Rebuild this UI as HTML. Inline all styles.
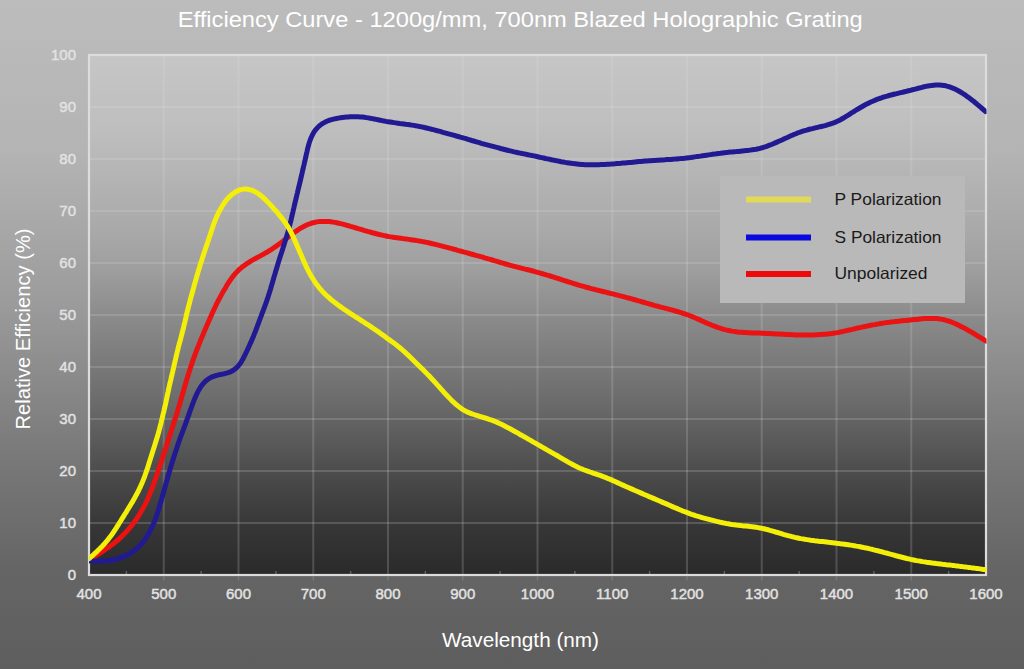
<!DOCTYPE html>
<html><head><meta charset="utf-8">
<style>
html,body{margin:0;padding:0;}
body{width:1024px;height:669px;overflow:hidden;position:relative;
background:linear-gradient(to bottom,rgb(188,188,188) 0%,rgb(180,180,180) 22.4%,rgb(156,156,156) 44.8%,rgb(122,122,122) 67.3%,rgb(101,101,101) 85.2%,rgb(94,94,94) 100%);
font-family:"Liberation Sans",sans-serif;}
svg{position:absolute;left:0;top:0;}
.t{font-family:"Liberation Sans",sans-serif;fill:#fff;}
.ax text{font-family:"Liberation Sans",sans-serif;font-size:15px;fill:#e2e2e2;stroke:#e2e2e2;stroke-width:0.45px;}
</style></head><body>
<svg width="1024" height="669" viewBox="0 0 1024 669">
<defs>
<linearGradient id="pg" x1="0" y1="0" x2="0" y2="1">
<stop offset="0.000" stop-color="rgb(198,198,198)"/>
<stop offset="0.144" stop-color="rgb(190,190,190)"/>
<stop offset="0.346" stop-color="rgb(168,168,168)"/>
<stop offset="0.413" stop-color="rgb(158,158,158)"/>
<stop offset="0.494" stop-color="rgb(141,141,141)"/>
<stop offset="0.654" stop-color="rgb(110,110,110)"/>
<stop offset="0.817" stop-color="rgb(73,73,73)"/>
<stop offset="0.910" stop-color="rgb(54,54,54)"/>
<stop offset="1.000" stop-color="rgb(42,42,42)"/>
</linearGradient>
<linearGradient id="gg" gradientUnits="userSpaceOnUse" x1="0" y1="55" x2="0" y2="575"><stop offset="0" stop-color="#fff" stop-opacity="0.09"/><stop offset="0.5" stop-color="#fff" stop-opacity="0.13"/><stop offset="1" stop-color="#fff" stop-opacity="0.17"/></linearGradient>
<clipPath id="pc"><rect x="89" y="20" width="897.5" height="555"/></clipPath>
</defs>
<rect x="89" y="55" width="897" height="520" fill="url(#pg)"/>
<g stroke="url(#gg)" stroke-width="2">
<line x1="163.75" y1="55" x2="163.75" y2="575"/><line x1="238.50" y1="55" x2="238.50" y2="575"/><line x1="313.25" y1="55" x2="313.25" y2="575"/><line x1="388.00" y1="55" x2="388.00" y2="575"/><line x1="462.75" y1="55" x2="462.75" y2="575"/><line x1="537.50" y1="55" x2="537.50" y2="575"/><line x1="612.25" y1="55" x2="612.25" y2="575"/><line x1="687.00" y1="55" x2="687.00" y2="575"/><line x1="761.75" y1="55" x2="761.75" y2="575"/><line x1="836.50" y1="55" x2="836.50" y2="575"/><line x1="911.25" y1="55" x2="911.25" y2="575"/><line x1="89" y1="523.0" x2="986" y2="523.0"/><line x1="89" y1="471.0" x2="986" y2="471.0"/><line x1="89" y1="419.0" x2="986" y2="419.0"/><line x1="89" y1="367.0" x2="986" y2="367.0"/><line x1="89" y1="315.0" x2="986" y2="315.0"/><line x1="89" y1="263.0" x2="986" y2="263.0"/><line x1="89" y1="211.0" x2="986" y2="211.0"/><line x1="89" y1="159.0" x2="986" y2="159.0"/><line x1="89" y1="107.0" x2="986" y2="107.0"/>
</g>
<g stroke="#ffffff" stroke-width="1.5"><line x1="126.38" y1="571" x2="126.38" y2="575" stroke-opacity="0.25"/><line x1="201.12" y1="571" x2="201.12" y2="575" stroke-opacity="0.25"/><line x1="275.88" y1="571" x2="275.88" y2="575" stroke-opacity="0.25"/><line x1="350.62" y1="571" x2="350.62" y2="575" stroke-opacity="0.25"/><line x1="425.38" y1="571" x2="425.38" y2="575" stroke-opacity="0.25"/><line x1="500.13" y1="571" x2="500.13" y2="575" stroke-opacity="0.25"/><line x1="574.88" y1="571" x2="574.88" y2="575" stroke-opacity="0.25"/><line x1="649.62" y1="571" x2="649.62" y2="575" stroke-opacity="0.25"/><line x1="724.38" y1="571" x2="724.38" y2="575" stroke-opacity="0.25"/><line x1="799.12" y1="571" x2="799.12" y2="575" stroke-opacity="0.25"/><line x1="873.88" y1="571" x2="873.88" y2="575" stroke-opacity="0.25"/><line x1="948.63" y1="571" x2="948.63" y2="575" stroke-opacity="0.25"/><line x1="163.75" y1="575" x2="163.75" y2="580.5" stroke-opacity="0.12"/><line x1="238.50" y1="575" x2="238.50" y2="580.5" stroke-opacity="0.12"/><line x1="313.25" y1="575" x2="313.25" y2="580.5" stroke-opacity="0.12"/><line x1="388.00" y1="575" x2="388.00" y2="580.5" stroke-opacity="0.12"/><line x1="462.75" y1="575" x2="462.75" y2="580.5" stroke-opacity="0.12"/><line x1="537.50" y1="575" x2="537.50" y2="580.5" stroke-opacity="0.12"/><line x1="612.25" y1="575" x2="612.25" y2="580.5" stroke-opacity="0.12"/><line x1="687.00" y1="575" x2="687.00" y2="580.5" stroke-opacity="0.12"/><line x1="761.75" y1="575" x2="761.75" y2="580.5" stroke-opacity="0.12"/><line x1="836.50" y1="575" x2="836.50" y2="580.5" stroke-opacity="0.12"/><line x1="911.25" y1="575" x2="911.25" y2="580.5" stroke-opacity="0.12"/></g>
<rect x="89" y="55" width="897" height="520" fill="none" stroke="#dcdcdc" stroke-width="2.2"/>
<g class="ax" text-anchor="end"><text x="76" y="580.2">0</text><text x="76" y="528.2">10</text><text x="76" y="476.2">20</text><text x="76" y="424.2">30</text><text x="76" y="372.2">40</text><text x="76" y="320.2">50</text><text x="76" y="268.2">60</text><text x="76" y="216.2">70</text><text x="76" y="164.2">80</text><text x="76" y="112.2">90</text><text x="76" y="60.2">100</text></g>
<g class="ax" text-anchor="middle"><text x="89.00" y="598.5">400</text><text x="163.75" y="598.5">500</text><text x="238.50" y="598.5">600</text><text x="313.25" y="598.5">700</text><text x="388.00" y="598.5">800</text><text x="462.75" y="598.5">900</text><text x="537.50" y="598.5">1000</text><text x="612.25" y="598.5">1100</text><text x="687.00" y="598.5">1200</text><text x="761.75" y="598.5">1300</text><text x="836.50" y="598.5">1400</text><text x="911.25" y="598.5">1500</text><text x="986.00" y="598.5">1600</text></g>
<g fill="none" stroke-width="5" stroke-linecap="round" stroke-linejoin="round" clip-path="url(#pc)">
<path d="M89.1 559.6 L90.9 558.5 L92.6 557.5 L94.3 556.5 L96.0 555.4 L97.7 554.4 L99.4 553.3 L101.1 552.3 L102.8 551.2 L104.4 550.1 L106.1 549.0 L107.7 547.8 L109.4 546.7 L111.0 545.5 L112.6 544.3 L114.2 543.0 L115.7 541.8 L117.2 540.5 L118.8 539.2 L120.2 537.8 L121.7 536.5 L123.1 535.1 L124.5 533.6 L125.9 532.2 L127.3 530.7 L128.6 529.2 L129.9 527.7 L131.2 526.2 L132.4 524.6 L133.6 523.0 L134.8 521.4 L135.9 519.7 L137.1 518.1 L138.2 516.4 L139.2 514.7 L140.3 513.0 L141.3 511.3 L142.3 509.6 L143.3 507.8 L144.2 506.0 L145.1 504.3 L146.0 502.5 L146.9 500.7 L147.7 498.8 L148.5 497.0 L149.3 495.2 L150.1 493.3 L150.8 491.5 L151.6 489.6 L152.3 487.8 L153.0 485.9 L153.7 484.0 L154.3 482.1 L155.0 480.2 L155.7 478.3 L156.3 476.5 L157.0 474.6 L157.6 472.7 L158.2 470.8 L158.9 468.9 L159.5 467.0 L160.1 465.1 L160.8 463.2 L161.4 461.3 L162.0 459.4 L162.6 457.5 L163.2 455.6 L163.9 453.7 L164.5 451.8 L165.1 449.8 L165.7 447.9 L166.3 446.0 L166.9 444.1 L167.6 442.2 L168.2 440.3 L168.8 438.4 L169.4 436.5 L170.0 434.6 L170.7 432.7 L171.3 430.8 L171.9 428.9 L172.5 427.0 L173.1 425.1 L173.7 423.2 L174.3 421.3 L174.9 419.4 L175.6 417.5 L176.2 415.6 L176.8 413.7 L177.4 411.8 L177.9 409.8 L178.5 407.9 L179.1 406.0 L179.7 404.1 L180.3 402.2 L180.8 400.3 L181.4 398.3 L181.9 396.4 L182.5 394.5 L183.0 392.6 L183.6 390.6 L184.1 388.7 L184.7 386.8 L185.2 384.9 L185.8 383.0 L186.3 381.0 L186.9 379.1 L187.5 377.2 L188.1 375.3 L188.7 373.4 L189.3 371.5 L189.9 369.6 L190.5 367.7 L191.1 365.8 L191.8 363.9 L192.4 362.0 L193.0 360.1 L193.7 358.2 L194.4 356.3 L195.1 354.4 L195.8 352.6 L196.5 350.7 L197.2 348.8 L197.9 347.0 L198.7 345.1 L199.4 343.2 L200.2 341.4 L200.9 339.5 L201.7 337.7 L202.5 335.8 L203.3 334.0 L204.0 332.2 L204.8 330.3 L205.6 328.5 L206.4 326.6 L207.2 324.8 L208.0 323.0 L208.8 321.1 L209.6 319.3 L210.4 317.5 L211.2 315.6 L212.0 313.8 L212.8 312.0 L213.7 310.2 L214.5 308.3 L215.4 306.5 L216.2 304.7 L217.1 302.9 L218.0 301.2 L218.9 299.4 L219.9 297.6 L220.8 295.9 L221.8 294.1 L222.8 292.3 L223.8 290.6 L224.8 288.9 L225.8 287.2 L226.8 285.4 L227.9 283.7 L228.9 282.1 L230.0 280.4 L231.2 278.8 L232.4 277.1 L233.6 275.6 L234.9 274.0 L236.2 272.6 L237.6 271.1 L239.1 269.7 L240.6 268.4 L242.1 267.1 L243.7 265.9 L245.3 264.7 L246.9 263.6 L248.6 262.5 L250.3 261.5 L252.0 260.4 L253.8 259.4 L255.5 258.5 L257.3 257.5 L259.0 256.6 L260.8 255.6 L262.6 254.6 L264.3 253.7 L266.0 252.7 L267.8 251.7 L269.5 250.6 L271.2 249.6 L272.8 248.5 L274.5 247.3 L276.2 246.2 L277.8 245.0 L279.4 243.9 L281.0 242.7 L282.6 241.5 L284.2 240.2 L285.8 239.0 L287.3 237.8 L288.9 236.6 L290.5 235.3 L292.1 234.1 L293.7 232.9 L295.3 231.8 L297.0 230.6 L298.6 229.5 L300.3 228.4 L302.0 227.4 L303.8 226.5 L305.6 225.6 L307.4 224.7 L309.3 224.0 L311.1 223.3 L313.1 222.8 L315.0 222.3 L317.0 221.9 L318.9 221.6 L320.9 221.5 L322.9 221.4 L324.9 221.4 L326.9 221.4 L328.9 221.6 L330.9 221.8 L332.9 222.1 L334.9 222.4 L336.8 222.8 L338.8 223.2 L340.7 223.6 L342.7 224.1 L344.6 224.6 L346.5 225.2 L348.5 225.7 L350.4 226.3 L352.3 226.8 L354.2 227.4 L356.1 228.0 L358.1 228.6 L360.0 229.1 L361.9 229.7 L363.8 230.3 L365.7 230.8 L367.7 231.4 L369.6 231.9 L371.5 232.5 L373.4 233.0 L375.4 233.5 L377.3 234.0 L379.3 234.5 L381.2 234.9 L383.2 235.4 L385.1 235.8 L387.1 236.2 L389.0 236.6 L391.0 236.9 L393.0 237.2 L395.0 237.5 L396.9 237.8 L398.9 238.1 L400.9 238.3 L402.9 238.6 L404.9 238.9 L406.9 239.1 L408.8 239.4 L410.8 239.7 L412.8 240.0 L414.8 240.3 L416.8 240.6 L418.7 240.9 L420.7 241.3 L422.7 241.6 L424.6 242.0 L426.6 242.4 L428.5 242.8 L430.5 243.2 L432.5 243.7 L434.4 244.1 L436.3 244.6 L438.3 245.1 L440.2 245.6 L442.2 246.1 L444.1 246.6 L446.0 247.1 L448.0 247.6 L449.9 248.2 L451.8 248.7 L453.8 249.2 L455.7 249.7 L457.6 250.3 L459.5 250.8 L461.5 251.3 L463.4 251.9 L465.3 252.4 L467.3 252.9 L469.2 253.5 L471.1 254.0 L473.0 254.5 L475.0 255.1 L476.9 255.6 L478.8 256.1 L480.8 256.7 L482.7 257.2 L484.6 257.8 L486.5 258.3 L488.4 258.9 L490.4 259.4 L492.3 260.0 L494.2 260.6 L496.1 261.1 L498.0 261.7 L500.0 262.3 L501.9 262.9 L503.8 263.4 L505.7 264.0 L507.6 264.5 L509.6 265.1 L511.5 265.6 L513.4 266.1 L515.4 266.6 L517.3 267.1 L519.2 267.6 L521.2 268.1 L523.1 268.6 L525.1 269.1 L527.0 269.5 L528.9 270.0 L530.9 270.5 L532.8 271.0 L534.8 271.6 L536.7 272.1 L538.6 272.6 L540.5 273.2 L542.5 273.7 L544.4 274.3 L546.3 274.9 L548.2 275.4 L550.1 276.0 L552.0 276.6 L553.9 277.2 L555.8 277.8 L557.8 278.4 L559.7 279.0 L561.6 279.7 L563.5 280.3 L565.4 280.9 L567.3 281.5 L569.2 282.1 L571.1 282.7 L573.0 283.3 L574.9 283.9 L576.8 284.5 L578.7 285.1 L580.7 285.7 L582.6 286.2 L584.5 286.7 L586.4 287.3 L588.4 287.8 L590.3 288.3 L592.2 288.8 L594.2 289.3 L596.1 289.8 L598.1 290.3 L600.0 290.8 L601.9 291.2 L603.9 291.7 L605.8 292.2 L607.8 292.7 L609.7 293.2 L611.6 293.6 L613.6 294.1 L615.5 294.6 L617.5 295.1 L619.4 295.6 L621.3 296.1 L623.3 296.6 L625.2 297.2 L627.1 297.7 L629.1 298.2 L631.0 298.7 L632.9 299.3 L634.9 299.8 L636.8 300.3 L638.7 300.9 L640.6 301.4 L642.6 302.0 L644.5 302.5 L646.4 303.1 L648.3 303.6 L650.2 304.2 L652.2 304.7 L654.1 305.3 L656.0 305.8 L658.0 306.3 L659.9 306.9 L661.8 307.4 L663.8 307.9 L665.7 308.4 L667.6 308.9 L669.6 309.4 L671.5 309.9 L673.4 310.4 L675.4 311.0 L677.3 311.5 L679.2 312.1 L681.1 312.6 L683.0 313.3 L684.9 313.9 L686.8 314.6 L688.7 315.2 L690.6 316.0 L692.4 316.7 L694.3 317.5 L696.1 318.3 L697.9 319.1 L699.8 319.9 L701.6 320.7 L703.4 321.5 L705.2 322.4 L707.1 323.2 L708.9 324.0 L710.7 324.7 L712.6 325.5 L714.4 326.2 L716.3 326.9 L718.2 327.6 L720.1 328.2 L722.0 328.8 L723.9 329.4 L725.9 329.9 L727.8 330.3 L729.8 330.7 L731.7 331.1 L733.7 331.4 L735.7 331.7 L737.7 332.0 L739.7 332.2 L741.7 332.3 L743.7 332.5 L745.7 332.6 L747.7 332.7 L749.7 332.8 L751.7 332.9 L753.7 332.9 L755.7 333.0 L757.7 333.1 L759.7 333.1 L761.7 333.2 L763.7 333.3 L765.7 333.4 L767.6 333.5 L769.6 333.6 L771.6 333.7 L773.6 333.8 L775.6 333.9 L777.6 334.0 L779.6 334.1 L781.6 334.2 L783.6 334.3 L785.6 334.4 L787.6 334.6 L789.6 334.6 L791.6 334.7 L793.6 334.8 L795.6 334.9 L797.6 334.9 L799.6 335.0 L801.6 335.0 L803.6 335.0 L805.6 335.0 L807.6 335.0 L809.6 335.0 L811.6 334.9 L813.6 334.9 L815.6 334.8 L817.6 334.7 L819.6 334.6 L821.6 334.5 L823.6 334.3 L825.6 334.2 L827.6 334.0 L829.6 333.7 L831.6 333.5 L833.6 333.2 L835.5 332.9 L837.5 332.6 L839.5 332.2 L841.4 331.8 L843.4 331.4 L845.3 330.9 L847.3 330.5 L849.2 330.0 L851.2 329.6 L853.1 329.1 L855.1 328.7 L857.0 328.2 L859.0 327.8 L860.9 327.4 L862.9 326.9 L864.9 326.5 L866.8 326.1 L868.8 325.7 L870.7 325.3 L872.7 324.9 L874.7 324.6 L876.6 324.2 L878.6 323.9 L880.6 323.5 L882.6 323.2 L884.5 322.9 L886.5 322.6 L888.5 322.4 L890.5 322.1 L892.5 321.9 L894.4 321.6 L896.4 321.4 L898.4 321.2 L900.4 321.0 L902.4 320.8 L904.4 320.6 L906.4 320.4 L908.4 320.2 L910.4 320.0 L912.4 319.8 L914.4 319.6 L916.3 319.4 L918.3 319.2 L920.3 319.0 L922.3 318.8 L924.3 318.6 L926.3 318.5 L928.3 318.4 L930.3 318.4 L932.3 318.4 L934.3 318.5 L936.3 318.6 L938.3 318.8 L940.3 319.1 L942.2 319.4 L944.2 319.8 L946.1 320.3 L948.0 320.9 L949.9 321.5 L951.8 322.2 L953.7 323.0 L955.5 323.8 L957.3 324.6 L959.1 325.5 L960.9 326.4 L962.7 327.3 L964.5 328.2 L966.2 329.2 L967.9 330.2 L969.7 331.2 L971.4 332.2 L973.1 333.2 L974.8 334.2 L976.6 335.3 L978.3 336.3 L980.0 337.4 L981.7 338.4 L983.4 339.4 L985.1 340.5 L985.9 341.0" stroke="#ea1212"/>
<path d="M89.1 561.0 L91.1 561.1 L93.1 561.1 L95.1 561.1 L97.1 561.2 L99.1 561.1 L101.1 561.1 L103.1 561.0 L105.1 560.9 L107.1 560.8 L109.1 560.6 L111.1 560.3 L113.0 560.0 L115.0 559.5 L116.9 559.1 L118.8 558.5 L120.7 557.9 L122.6 557.1 L124.4 556.3 L126.2 555.5 L128.0 554.6 L129.7 553.6 L131.4 552.5 L133.1 551.4 L134.7 550.2 L136.2 548.9 L137.7 547.6 L139.2 546.2 L140.6 544.8 L141.9 543.3 L143.2 541.7 L144.4 540.1 L145.6 538.5 L146.7 536.9 L147.7 535.2 L148.8 533.4 L149.7 531.7 L150.7 529.9 L151.5 528.1 L152.4 526.3 L153.2 524.5 L154.0 522.7 L154.7 520.8 L155.5 518.9 L156.1 517.1 L156.8 515.2 L157.4 513.3 L158.0 511.4 L158.6 509.5 L159.2 507.5 L159.8 505.6 L160.3 503.7 L160.9 501.8 L161.4 499.8 L162.0 497.9 L162.5 496.0 L163.0 494.1 L163.6 492.1 L164.1 490.2 L164.7 488.3 L165.2 486.4 L165.7 484.4 L166.3 482.5 L166.8 480.6 L167.4 478.7 L167.9 476.7 L168.5 474.8 L169.0 472.9 L169.6 471.0 L170.1 469.1 L170.7 467.1 L171.3 465.2 L171.9 463.3 L172.5 461.4 L173.1 459.5 L173.7 457.6 L174.3 455.7 L174.9 453.8 L175.5 451.9 L176.2 450.0 L176.8 448.1 L177.4 446.2 L178.0 444.3 L178.7 442.4 L179.4 440.5 L180.0 438.6 L180.7 436.7 L181.4 434.9 L182.1 433.0 L182.8 431.1 L183.5 429.2 L184.2 427.4 L184.9 425.5 L185.6 423.6 L186.3 421.7 L186.9 419.8 L187.6 418.0 L188.3 416.1 L189.0 414.2 L189.6 412.3 L190.3 410.4 L191.0 408.5 L191.7 406.6 L192.3 404.8 L193.1 402.9 L193.8 401.0 L194.5 399.2 L195.3 397.3 L196.1 395.5 L196.9 393.7 L197.8 391.9 L198.8 390.1 L199.8 388.4 L200.8 386.7 L202.0 385.1 L203.3 383.5 L204.6 382.1 L206.1 380.7 L207.6 379.5 L209.3 378.4 L211.0 377.4 L212.9 376.6 L214.8 376.0 L216.7 375.4 L218.6 374.9 L220.6 374.5 L222.5 374.1 L224.5 373.7 L226.4 373.2 L228.3 372.6 L230.2 371.9 L232.0 371.0 L233.7 370.0 L235.3 368.8 L236.8 367.5 L238.2 366.1 L239.4 364.5 L240.6 362.9 L241.6 361.2 L242.6 359.5 L243.6 357.7 L244.5 355.9 L245.4 354.1 L246.2 352.3 L247.1 350.5 L247.9 348.7 L248.8 346.9 L249.6 345.1 L250.4 343.2 L251.3 341.4 L252.1 339.6 L252.8 337.7 L253.6 335.9 L254.3 334.0 L255.1 332.2 L255.8 330.3 L256.5 328.4 L257.2 326.6 L257.9 324.7 L258.6 322.8 L259.3 320.9 L260.0 319.0 L260.7 317.2 L261.4 315.3 L262.1 313.4 L262.8 311.6 L263.5 309.7 L264.2 307.8 L264.9 305.9 L265.6 304.1 L266.3 302.2 L266.9 300.3 L267.6 298.4 L268.2 296.5 L268.8 294.6 L269.4 292.7 L270.0 290.8 L270.6 288.9 L271.1 286.9 L271.7 285.0 L272.3 283.1 L272.8 281.2 L273.4 279.3 L273.9 277.3 L274.5 275.4 L275.1 273.5 L275.6 271.6 L276.2 269.7 L276.8 267.7 L277.4 265.8 L277.9 263.9 L278.5 262.0 L279.1 260.1 L279.7 258.2 L280.3 256.3 L280.9 254.4 L281.6 252.5 L282.2 250.6 L282.8 248.7 L283.4 246.8 L284.0 244.9 L284.6 242.9 L285.2 241.0 L285.8 239.1 L286.4 237.2 L287.0 235.3 L287.5 233.4 L288.1 231.4 L288.6 229.5 L289.1 227.6 L289.6 225.7 L290.1 223.7 L290.6 221.8 L291.1 219.8 L291.5 217.9 L292.0 215.9 L292.4 214.0 L292.9 212.0 L293.3 210.1 L293.8 208.1 L294.2 206.2 L294.7 204.2 L295.1 202.3 L295.6 200.3 L296.1 198.4 L296.5 196.5 L297.0 194.5 L297.5 192.6 L297.9 190.6 L298.4 188.7 L298.9 186.7 L299.3 184.8 L299.8 182.8 L300.3 180.9 L300.7 178.9 L301.2 177.0 L301.6 175.0 L302.1 173.1 L302.5 171.1 L303.0 169.2 L303.4 167.2 L303.9 165.3 L304.3 163.3 L304.8 161.4 L305.2 159.4 L305.7 157.5 L306.1 155.5 L306.5 153.6 L307.0 151.6 L307.4 149.7 L307.9 147.7 L308.4 145.8 L308.9 143.9 L309.5 142.0 L310.2 140.1 L310.9 138.2 L311.7 136.4 L312.6 134.6 L313.5 132.8 L314.6 131.2 L315.8 129.6 L317.1 128.1 L318.5 126.6 L320.0 125.3 L321.6 124.2 L323.3 123.1 L325.1 122.1 L326.9 121.3 L328.7 120.5 L330.6 119.9 L332.6 119.4 L334.5 118.9 L336.5 118.5 L338.4 118.1 L340.4 117.8 L342.4 117.5 L344.4 117.3 L346.4 117.1 L348.4 117.0 L350.3 116.8 L352.3 116.8 L354.3 116.7 L356.3 116.7 L358.3 116.8 L360.3 116.9 L362.3 117.1 L364.3 117.3 L366.3 117.6 L368.3 117.9 L370.2 118.3 L372.2 118.6 L374.2 119.0 L376.1 119.4 L378.1 119.8 L380.1 120.2 L382.0 120.6 L384.0 121.0 L385.9 121.4 L387.9 121.7 L389.9 122.0 L391.9 122.3 L393.8 122.6 L395.8 122.9 L397.8 123.2 L399.8 123.5 L401.8 123.7 L403.8 124.0 L405.7 124.3 L407.7 124.5 L409.7 124.8 L411.7 125.1 L413.7 125.4 L415.6 125.7 L417.6 126.1 L419.6 126.5 L421.5 126.9 L423.5 127.3 L425.4 127.7 L427.4 128.2 L429.3 128.7 L431.3 129.2 L433.2 129.7 L435.1 130.2 L437.1 130.7 L439.0 131.2 L440.9 131.7 L442.9 132.3 L444.8 132.8 L446.7 133.3 L448.6 133.9 L450.6 134.4 L452.5 134.9 L454.4 135.4 L456.4 136.0 L458.3 136.5 L460.2 137.1 L462.1 137.6 L464.1 138.2 L466.0 138.7 L467.9 139.3 L469.8 139.9 L471.7 140.5 L473.6 141.0 L475.6 141.6 L477.5 142.2 L479.4 142.7 L481.3 143.3 L483.2 143.8 L485.2 144.4 L487.1 144.9 L489.0 145.4 L491.0 145.9 L492.9 146.4 L494.8 146.9 L496.8 147.4 L498.7 147.9 L500.6 148.5 L502.6 149.0 L504.5 149.5 L506.5 150.0 L508.4 150.5 L510.3 150.9 L512.3 151.4 L514.2 151.9 L516.2 152.3 L518.1 152.7 L520.1 153.1 L522.1 153.5 L524.0 153.9 L526.0 154.3 L527.9 154.7 L529.9 155.1 L531.9 155.5 L533.8 155.9 L535.8 156.3 L537.7 156.7 L539.7 157.2 L541.6 157.6 L543.6 158.0 L545.5 158.5 L547.5 158.9 L549.5 159.3 L551.4 159.7 L553.4 160.1 L555.3 160.5 L557.3 160.9 L559.3 161.3 L561.2 161.7 L563.2 162.0 L565.2 162.4 L567.1 162.7 L569.1 163.0 L571.1 163.3 L573.1 163.6 L575.1 163.8 L577.0 164.0 L579.0 164.2 L581.0 164.4 L583.0 164.5 L585.0 164.7 L587.0 164.7 L589.0 164.8 L591.0 164.8 L593.0 164.8 L595.0 164.8 L597.0 164.8 L599.0 164.7 L601.0 164.6 L603.0 164.6 L605.0 164.5 L607.0 164.3 L609.0 164.2 L611.0 164.1 L613.0 163.9 L615.0 163.8 L617.0 163.6 L619.0 163.4 L621.0 163.3 L623.0 163.1 L625.0 162.9 L627.0 162.7 L629.0 162.5 L630.9 162.4 L632.9 162.2 L634.9 162.0 L636.9 161.8 L638.9 161.6 L640.9 161.5 L642.9 161.3 L644.9 161.1 L646.9 161.0 L648.9 160.8 L650.9 160.7 L652.9 160.5 L654.9 160.4 L656.9 160.3 L658.9 160.2 L660.9 160.0 L662.9 159.9 L664.9 159.8 L666.8 159.6 L668.8 159.5 L670.8 159.4 L672.8 159.2 L674.8 159.1 L676.8 158.9 L678.8 158.7 L680.8 158.6 L682.8 158.4 L684.8 158.2 L686.8 157.9 L688.8 157.7 L690.8 157.5 L692.7 157.2 L694.7 156.9 L696.7 156.6 L698.7 156.4 L700.7 156.1 L702.6 155.8 L704.6 155.5 L706.6 155.2 L708.6 154.9 L710.6 154.6 L712.5 154.3 L714.5 154.1 L716.5 153.8 L718.5 153.5 L720.5 153.3 L722.5 153.0 L724.4 152.8 L726.4 152.6 L728.4 152.3 L730.4 152.1 L732.4 151.9 L734.4 151.7 L736.4 151.6 L738.4 151.4 L740.4 151.2 L742.4 151.0 L744.3 150.8 L746.3 150.6 L748.3 150.4 L750.3 150.1 L752.3 149.8 L754.3 149.5 L756.2 149.2 L758.2 148.8 L760.1 148.3 L762.1 147.8 L764.0 147.2 L765.9 146.6 L767.8 145.9 L769.6 145.2 L771.5 144.5 L773.3 143.7 L775.2 142.9 L777.0 142.1 L778.8 141.3 L780.7 140.5 L782.5 139.7 L784.3 138.8 L786.1 138.0 L787.9 137.2 L789.8 136.3 L791.6 135.5 L793.4 134.7 L795.3 134.0 L797.1 133.2 L799.0 132.5 L800.9 131.8 L802.8 131.2 L804.7 130.6 L806.6 130.1 L808.6 129.5 L810.5 129.0 L812.4 128.6 L814.4 128.1 L816.3 127.6 L818.3 127.2 L820.2 126.7 L822.2 126.3 L824.1 125.8 L826.0 125.3 L828.0 124.7 L829.9 124.1 L831.8 123.5 L833.7 122.8 L835.5 122.1 L837.3 121.3 L839.1 120.4 L840.9 119.5 L842.6 118.5 L844.4 117.5 L846.1 116.4 L847.8 115.4 L849.5 114.3 L851.2 113.2 L852.9 112.2 L854.5 111.1 L856.2 110.0 L858.0 109.0 L859.7 108.0 L861.4 107.0 L863.1 106.0 L864.9 105.0 L866.7 104.1 L868.5 103.2 L870.3 102.3 L872.1 101.5 L873.9 100.7 L875.8 99.9 L877.6 99.2 L879.5 98.5 L881.4 97.9 L883.3 97.2 L885.2 96.6 L887.1 96.1 L889.0 95.5 L891.0 95.0 L892.9 94.5 L894.9 94.0 L896.8 93.6 L898.7 93.1 L900.7 92.6 L902.6 92.2 L904.6 91.7 L906.5 91.3 L908.5 90.8 L910.4 90.3 L912.4 89.8 L914.3 89.3 L916.2 88.8 L918.2 88.3 L920.1 87.8 L922.0 87.3 L924.0 86.8 L925.9 86.4 L927.9 86.0 L929.9 85.7 L931.8 85.4 L933.8 85.2 L935.8 85.0 L937.8 85.0 L939.8 85.0 L941.8 85.2 L943.8 85.4 L945.8 85.8 L947.7 86.3 L949.6 86.9 L951.5 87.6 L953.3 88.3 L955.2 89.1 L956.9 90.0 L958.7 91.0 L960.4 92.0 L962.1 93.0 L963.8 94.1 L965.5 95.2 L967.1 96.4 L968.7 97.6 L970.3 98.8 L971.9 100.0 L973.5 101.2 L975.0 102.5 L976.6 103.8 L978.1 105.1 L979.6 106.4 L981.1 107.7 L982.6 109.0 L984.2 110.3 L985.7 111.6 L985.7 111.6" stroke="#221a92"/>
<path d="M89.2 558.5 L90.7 557.2 L92.2 555.9 L93.7 554.5 L95.1 553.2 L96.6 551.8 L98.0 550.4 L99.5 549.0 L100.9 547.6 L102.3 546.2 L103.6 544.7 L105.0 543.2 L106.3 541.7 L107.6 540.2 L108.8 538.6 L110.0 537.0 L111.2 535.4 L112.4 533.8 L113.5 532.1 L114.6 530.5 L115.7 528.8 L116.8 527.1 L117.9 525.4 L118.9 523.7 L120.0 522.0 L121.1 520.3 L122.1 518.6 L123.2 516.9 L124.2 515.2 L125.3 513.5 L126.4 511.8 L127.4 510.1 L128.4 508.4 L129.5 506.7 L130.5 505.0 L131.5 503.3 L132.6 501.6 L133.6 499.8 L134.6 498.1 L135.5 496.3 L136.5 494.6 L137.4 492.8 L138.4 491.0 L139.2 489.2 L140.1 487.4 L140.9 485.6 L141.7 483.8 L142.5 481.9 L143.2 480.1 L144.0 478.2 L144.7 476.3 L145.3 474.5 L146.0 472.6 L146.6 470.7 L147.3 468.8 L147.9 466.9 L148.5 465.0 L149.1 463.0 L149.7 461.1 L150.3 459.2 L150.9 457.3 L151.5 455.4 L152.1 453.5 L152.7 451.6 L153.3 449.7 L153.9 447.8 L154.5 445.9 L155.1 444.0 L155.7 442.0 L156.3 440.1 L156.9 438.2 L157.5 436.3 L158.0 434.4 L158.6 432.5 L159.1 430.5 L159.6 428.6 L160.1 426.7 L160.6 424.7 L161.1 422.8 L161.5 420.8 L162.0 418.9 L162.5 416.9 L162.9 415.0 L163.4 413.0 L163.9 411.1 L164.3 409.2 L164.8 407.2 L165.2 405.3 L165.7 403.3 L166.1 401.3 L166.5 399.4 L166.9 397.4 L167.3 395.5 L167.7 393.5 L168.2 391.6 L168.6 389.6 L169.0 387.6 L169.4 385.7 L169.9 383.7 L170.3 381.8 L170.8 379.8 L171.2 377.9 L171.7 375.9 L172.1 374.0 L172.6 372.0 L173.0 370.1 L173.5 368.1 L173.9 366.2 L174.4 364.2 L174.8 362.3 L175.3 360.3 L175.7 358.4 L176.2 356.4 L176.6 354.5 L177.1 352.5 L177.6 350.6 L178.1 348.7 L178.5 346.7 L179.0 344.8 L179.5 342.8 L180.1 340.9 L180.6 339.0 L181.1 337.0 L181.6 335.1 L182.1 333.2 L182.6 331.2 L183.1 329.3 L183.6 327.3 L184.0 325.4 L184.5 323.5 L185.0 321.5 L185.4 319.6 L185.9 317.6 L186.3 315.7 L186.8 313.7 L187.2 311.8 L187.7 309.8 L188.2 307.9 L188.7 305.9 L189.2 304.0 L189.7 302.1 L190.2 300.1 L190.7 298.2 L191.2 296.3 L191.8 294.3 L192.3 292.4 L192.8 290.5 L193.4 288.5 L193.9 286.6 L194.4 284.7 L195.0 282.8 L195.5 280.8 L196.1 278.9 L196.6 277.0 L197.2 275.1 L197.7 273.1 L198.3 271.2 L198.9 269.3 L199.5 267.4 L200.0 265.5 L200.6 263.6 L201.2 261.7 L201.9 259.8 L202.5 257.8 L203.1 255.9 L203.7 254.0 L204.4 252.1 L205.0 250.2 L205.6 248.3 L206.3 246.4 L206.9 244.6 L207.5 242.7 L208.2 240.8 L208.8 238.9 L209.4 237.0 L210.1 235.1 L210.7 233.2 L211.3 231.3 L211.9 229.4 L212.6 227.5 L213.2 225.6 L213.9 223.7 L214.6 221.8 L215.3 219.9 L216.1 218.1 L216.9 216.3 L217.7 214.5 L218.6 212.7 L219.5 210.9 L220.5 209.1 L221.5 207.4 L222.5 205.6 L223.6 204.0 L224.7 202.3 L225.9 200.7 L227.2 199.2 L228.5 197.7 L229.9 196.3 L231.4 194.9 L232.9 193.7 L234.6 192.5 L236.3 191.5 L238.1 190.6 L239.9 189.9 L241.9 189.4 L243.8 189.1 L245.8 189.1 L247.8 189.2 L249.7 189.6 L251.6 190.2 L253.5 190.9 L255.3 191.8 L257.0 192.8 L258.7 194.0 L260.3 195.2 L261.8 196.4 L263.3 197.7 L264.8 199.1 L266.2 200.5 L267.6 201.9 L269.0 203.4 L270.4 204.8 L271.7 206.3 L273.1 207.8 L274.4 209.3 L275.7 210.8 L277.1 212.3 L278.3 213.8 L279.6 215.3 L280.9 216.9 L282.1 218.5 L283.3 220.1 L284.5 221.7 L285.7 223.3 L286.8 225.0 L287.8 226.7 L288.9 228.4 L289.8 230.1 L290.8 231.9 L291.7 233.7 L292.6 235.5 L293.4 237.3 L294.2 239.1 L295.0 240.9 L295.8 242.8 L296.6 244.6 L297.4 246.4 L298.2 248.3 L299.0 250.1 L299.8 252.0 L300.6 253.8 L301.4 255.6 L302.2 257.5 L303.0 259.3 L303.8 261.2 L304.6 263.0 L305.4 264.8 L306.2 266.6 L307.1 268.4 L308.0 270.2 L308.9 272.0 L309.9 273.7 L310.9 275.5 L311.9 277.2 L313.0 278.9 L314.0 280.6 L315.1 282.3 L316.3 283.9 L317.5 285.5 L318.7 287.1 L320.0 288.6 L321.3 290.1 L322.6 291.6 L324.0 293.1 L325.4 294.5 L326.9 295.9 L328.4 297.2 L329.9 298.5 L331.4 299.8 L332.9 301.1 L334.5 302.3 L336.1 303.5 L337.7 304.7 L339.3 305.9 L341.0 307.1 L342.6 308.2 L344.2 309.4 L345.9 310.5 L347.6 311.6 L349.2 312.7 L350.9 313.8 L352.6 314.9 L354.2 316.0 L355.9 317.1 L357.6 318.2 L359.3 319.2 L361.0 320.3 L362.7 321.4 L364.4 322.5 L366.0 323.6 L367.7 324.6 L369.4 325.7 L371.1 326.9 L372.7 328.0 L374.4 329.1 L376.0 330.2 L377.7 331.4 L379.3 332.5 L380.9 333.7 L382.6 334.9 L384.2 336.0 L385.8 337.2 L387.4 338.4 L389.0 339.6 L390.7 340.7 L392.3 341.9 L393.9 343.1 L395.5 344.3 L397.1 345.5 L398.6 346.8 L400.2 348.0 L401.7 349.3 L403.2 350.6 L404.7 352.0 L406.2 353.3 L407.6 354.7 L409.1 356.1 L410.5 357.5 L412.0 358.9 L413.4 360.3 L414.8 361.7 L416.2 363.1 L417.7 364.5 L419.1 365.9 L420.5 367.3 L422.0 368.7 L423.4 370.1 L424.8 371.5 L426.2 372.9 L427.6 374.4 L429.0 375.8 L430.4 377.3 L431.7 378.7 L433.1 380.2 L434.4 381.7 L435.8 383.1 L437.1 384.6 L438.5 386.1 L439.8 387.6 L441.1 389.1 L442.5 390.6 L443.8 392.1 L445.1 393.6 L446.5 395.0 L447.9 396.5 L449.3 397.9 L450.7 399.4 L452.1 400.8 L453.5 402.1 L455.0 403.5 L456.5 404.8 L458.1 406.1 L459.6 407.3 L461.3 408.5 L462.9 409.6 L464.7 410.6 L466.4 411.5 L468.2 412.4 L470.1 413.1 L472.0 413.9 L473.8 414.5 L475.7 415.1 L477.7 415.7 L479.6 416.3 L481.5 416.9 L483.4 417.5 L485.3 418.0 L487.2 418.6 L489.1 419.3 L491.0 419.9 L492.9 420.6 L494.8 421.3 L496.6 422.1 L498.4 422.9 L500.3 423.8 L502.1 424.6 L503.8 425.5 L505.6 426.5 L507.4 427.4 L509.1 428.3 L510.9 429.3 L512.7 430.3 L514.4 431.2 L516.2 432.2 L517.9 433.2 L519.6 434.2 L521.4 435.2 L523.1 436.2 L524.9 437.1 L526.6 438.1 L528.3 439.1 L530.1 440.1 L531.8 441.1 L533.5 442.1 L535.3 443.1 L537.0 444.1 L538.8 445.1 L540.5 446.1 L542.2 447.1 L544.0 448.1 L545.7 449.1 L547.4 450.1 L549.2 451.1 L550.9 452.1 L552.7 453.1 L554.4 454.1 L556.1 455.0 L557.9 456.0 L559.6 457.1 L561.3 458.1 L563.0 459.1 L564.8 460.1 L566.5 461.1 L568.2 462.1 L570.0 463.1 L571.7 464.0 L573.5 465.0 L575.3 465.9 L577.0 466.8 L578.9 467.7 L580.7 468.5 L582.5 469.2 L584.4 470.0 L586.3 470.7 L588.2 471.3 L590.1 472.0 L591.9 472.6 L593.8 473.3 L595.7 473.9 L597.6 474.6 L599.5 475.2 L601.4 475.9 L603.3 476.6 L605.2 477.3 L607.0 478.1 L608.9 478.8 L610.7 479.6 L612.5 480.4 L614.4 481.2 L616.2 482.1 L618.0 482.9 L619.8 483.7 L621.6 484.6 L623.5 485.4 L625.3 486.2 L627.1 487.0 L628.9 487.8 L630.8 488.6 L632.6 489.4 L634.4 490.2 L636.3 491.0 L638.1 491.8 L640.0 492.6 L641.8 493.4 L643.6 494.2 L645.5 495.0 L647.3 495.8 L649.2 496.6 L651.0 497.3 L652.8 498.1 L654.7 498.9 L656.5 499.7 L658.4 500.5 L660.2 501.3 L662.0 502.1 L663.9 502.9 L665.7 503.6 L667.5 504.4 L669.4 505.2 L671.2 506.1 L673.0 506.9 L674.9 507.7 L676.7 508.4 L678.6 509.2 L680.4 510.0 L682.3 510.8 L684.1 511.5 L686.0 512.2 L687.8 512.9 L689.7 513.6 L691.6 514.3 L693.5 514.9 L695.4 515.6 L697.3 516.2 L699.2 516.7 L701.2 517.3 L703.1 517.9 L705.0 518.4 L706.9 518.9 L708.9 519.4 L710.8 519.9 L712.8 520.4 L714.7 520.9 L716.6 521.4 L718.6 521.8 L720.5 522.3 L722.5 522.7 L724.5 523.1 L726.4 523.5 L728.4 523.8 L730.4 524.2 L732.3 524.5 L734.3 524.7 L736.3 525.0 L738.3 525.2 L740.3 525.4 L742.3 525.7 L744.3 525.9 L746.3 526.1 L748.2 526.3 L750.2 526.5 L752.2 526.7 L754.2 527.0 L756.2 527.3 L758.2 527.6 L760.1 528.0 L762.1 528.4 L764.0 528.8 L766.0 529.3 L767.9 529.7 L769.9 530.3 L771.8 530.8 L773.7 531.4 L775.6 532.0 L777.5 532.5 L779.5 533.1 L781.4 533.7 L783.3 534.3 L785.2 534.8 L787.1 535.4 L789.1 535.9 L791.0 536.4 L792.9 536.9 L794.9 537.4 L796.8 537.8 L798.8 538.2 L800.8 538.6 L802.7 538.9 L804.7 539.3 L806.7 539.6 L808.7 539.9 L810.6 540.2 L812.6 540.4 L814.6 540.7 L816.6 540.9 L818.6 541.2 L820.6 541.4 L822.6 541.6 L824.6 541.8 L826.5 542.0 L828.5 542.3 L830.5 542.5 L832.5 542.7 L834.5 542.9 L836.5 543.2 L838.5 543.4 L840.5 543.7 L842.4 543.9 L844.4 544.2 L846.4 544.5 L848.4 544.8 L850.4 545.1 L852.3 545.4 L854.3 545.7 L856.3 546.1 L858.3 546.4 L860.2 546.8 L862.2 547.2 L864.1 547.6 L866.1 548.0 L868.1 548.4 L870.0 548.9 L872.0 549.3 L873.9 549.8 L875.8 550.3 L877.8 550.8 L879.7 551.3 L881.7 551.8 L883.6 552.3 L885.5 552.8 L887.5 553.3 L889.4 553.9 L891.3 554.4 L893.2 554.9 L895.2 555.5 L897.1 556.0 L899.0 556.5 L901.0 557.0 L902.9 557.5 L904.8 558.0 L906.8 558.5 L908.7 558.9 L910.7 559.4 L912.7 559.8 L914.6 560.2 L916.6 560.6 L918.6 560.9 L920.5 561.2 L922.5 561.6 L924.5 561.9 L926.5 562.2 L928.4 562.4 L930.4 562.7 L932.4 563.0 L934.4 563.2 L936.4 563.5 L938.4 563.7 L940.4 563.9 L942.3 564.2 L944.3 564.4 L946.3 564.7 L948.3 564.9 L950.3 565.1 L952.3 565.4 L954.3 565.6 L956.2 565.9 L958.2 566.1 L960.2 566.4 L962.2 566.6 L964.2 566.9 L966.2 567.1 L968.2 567.4 L970.1 567.6 L972.1 567.9 L974.1 568.1 L976.1 568.4 L978.1 568.6 L980.1 568.9 L982.1 569.2 L984.0 569.4 L986.0 569.7 L986.0 569.7" stroke="#f4ef08"/>
</g>
<rect x="720" y="176" width="245" height="127" fill="#b9b9b9"/>
<g stroke-width="6">
<line x1="746" y1="199.5" x2="811" y2="199.5" stroke="#e1d95a"/>
<line x1="746" y1="237.5" x2="811" y2="237.5" stroke="#0a0ae0"/>
<line x1="746" y1="274" x2="811" y2="274" stroke="#ee0a0a"/>
</g>
<g font-family="Liberation Sans" font-size="16.5" fill="#1a1a1a">
<text x="834.5" y="205" textLength="107" lengthAdjust="spacingAndGlyphs">P Polarization</text>
<text x="834.5" y="243" textLength="107" lengthAdjust="spacingAndGlyphs">S Polarization</text>
<text x="834.5" y="279" textLength="93" lengthAdjust="spacingAndGlyphs">Unpolarized</text>
</g>
<text class="t" x="177.8" y="26.6" font-size="22" textLength="685" lengthAdjust="spacingAndGlyphs">Efficiency Curve - 1200g/mm, 700nm Blazed Holographic Grating</text>
<text class="t" x="442" y="646.5" font-size="19.5" textLength="157" lengthAdjust="spacingAndGlyphs">Wavelength (nm)</text>
<text class="t" transform="translate(30,429.5) rotate(-90)" font-size="19.5" textLength="201" lengthAdjust="spacingAndGlyphs">Relative Efficiency (%)</text>
</svg>
</body></html>
